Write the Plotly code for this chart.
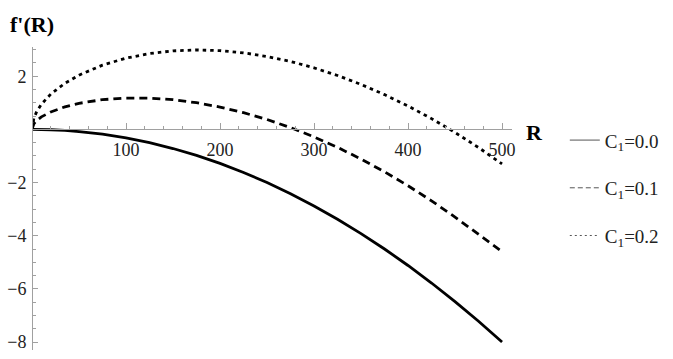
import plotly.graph_objects as go

R = [0, 2, 5, 10, 20, 35, 50, 75, 100, 125, 150, 175, 200, 225, 250, 275,
     300, 325, 350, 375, 400, 425, 450, 475, 500]
f_c00 = [0, -0.0001, -0.0008, -0.003, -0.013, -0.039, -0.08, -0.18, -0.32, -0.5,
         -0.72, -0.98, -1.28, -1.62, -2.0, -2.42, -2.88, -3.38, -3.92, -4.5,
         -5.12, -5.78, -6.48, -7.22, -8.0]
f_c01 = [0, 0.212, 0.334, 0.471, 0.658, 0.848, 0.981, 1.119, 1.18, 1.177,
         1.117, 1.004, 0.841, 0.63, 0.372, 0.067, -0.282, -0.676, -1.114,
         -1.595, -2.12, -2.688, -3.298, -3.951, -4.6]
f_c02 = [0, 0.424, 0.67, 0.946, 1.329, 1.736, 2.041, 2.418, 2.68, 2.854,
         2.954, 2.989, 2.963, 2.88, 2.743, 2.555, 2.316, 2.028, 1.692, 1.309,
         0.88, 0.405, -0.116, -0.682, -1.3]
names = ["C<sub>1</sub>=0.0", "C<sub>1</sub>=0.1", "C<sub>1</sub>=0.2"]
dashes = ["solid", "8px,5px", "3.5px,4px"]
series = [f_c00, f_c01, f_c02]

x_tickvals = [100, 200, 300, 400, 500]
y_tickvals = [2, -2, -4, -6, -8]
y_ticktext = ["2", "\u22122", "\u22124", "\u22126", "\u22128"]

xr = [0, 510.6]
yr = [-8.3, 3.1]

SERIF = "Liberation Serif, Times New Roman, serif"

fig = go.Figure()
for ys, nm, d in zip(series, names, dashes):
    fig.add_trace(go.Scatter(x=R, y=ys, mode="lines", showlegend=False,
                             line=dict(color="black", width=2.8, dash=d)))
legend_dashes = ["solid", "5px,3px", "2px,3px"]
for nm, d in zip(names, legend_dashes):
    fig.add_trace(go.Scatter(x=[None], y=[None], mode="lines", name=nm,
                             legendgroup=nm,
                             line=dict(color="#555", width=1, dash=d)))

axcol = "#a0a0a0"
fig.update_layout(
    width=673, height=359,
    margin=dict(l=24, r=161, t=47, b=7),
    plot_bgcolor="white", paper_bgcolor="white",
    font=dict(family=SERIF, size=18, color="black"),
    xaxis=dict(range=xr, anchor="free",
               position=(0 - yr[0]) / (yr[1] - yr[0]),
               showgrid=False, zeroline=False, showline=True,
               linecolor=axcol, linewidth=1,
               ticks="inside", ticklen=6, tickcolor=axcol,
               tickvals=x_tickvals, ticklabelstandoff=4,
               tickfont=dict(family=SERIF, size=18, color="#222"),
               minor=dict(ticks="inside", ticklen=3, dtick=20, tick0=0,
                          tickcolor=axcol, showgrid=False)),
    yaxis=dict(range=yr, anchor="free",
               position=(0 - xr[0]) / (xr[1] - xr[0]),
               showgrid=False, zeroline=False, showline=True,
               linecolor=axcol, linewidth=1,
               ticks="inside", ticklen=5, tickcolor=axcol,
               tickvals=y_tickvals, ticktext=y_ticktext,
               ticklabelstandoff=2,
               tickfont=dict(family=SERIF, size=18, color="#222"),
               minor=dict(ticks="inside", ticklen=3, dtick=0.5, tick0=0,
                          tickcolor=axcol, showgrid=False)),
    legend=dict(x=1.11, y=0.755, xanchor="left", yanchor="top",
                traceorder="grouped", tracegroupgap=20,
                font=dict(family=SERIF, size=19, color="#222"),
                bgcolor="rgba(0,0,0,0)", itemwidth=30),
    annotations=[
        dict(text="<b>f'(R)</b>", xref="paper", yref="paper",
             x=-0.05, y=1.0, xanchor="left", yanchor="bottom", yshift=8,
             showarrow=False, font=dict(family=SERIF, size=22)),
        dict(text="<b>R</b>", xref="paper", yref="paper",
             x=1.0, y=(0 - yr[0]) / (yr[1] - yr[0]), xanchor="left",
             yanchor="middle", xshift=12, yshift=-3,
             showarrow=False, font=dict(family=SERIF, size=22)),
    ],
)

fig.write_html("out.html")
